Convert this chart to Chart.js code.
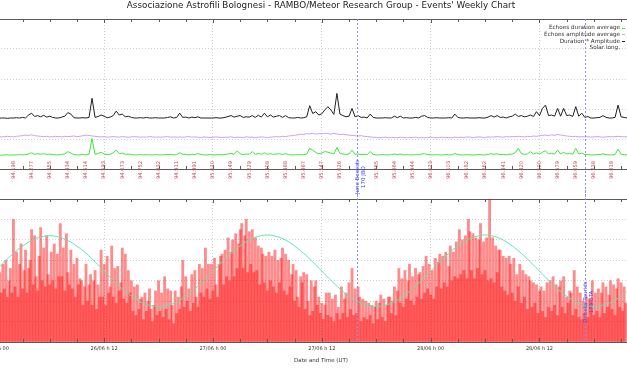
<!DOCTYPE html>
<html>
<head>
<meta charset="utf-8">
<title>RAMBO - Events' Weekly Chart</title>
<script src="https://cdn.jsdelivr.net/npm/chart.js"></script>
<style>
  html, body { margin: 0; padding: 0; background: #fff; overflow: hidden; width: 627px; height: 376px; position: relative; }
  #top { position: absolute; left: -20px; top: 0; z-index: 2; }
  #bottom { position: absolute; left: -20px; top: 190px; z-index: 1; }
</style>
</head>
<body>
<canvas id="top" width="682" height="200"></canvas>
<canvas id="bottom" width="682" height="186"></canvas>
<script>
const FONT = 'DejaVu Sans';

// time axis: hours from 26/06 00:00 UT
const xMin = -1.687;
const xMax = 73.51;
const gridHours = [0, 12, 24, 36, 48, 60, 72];
const dateLabels = ['26/06 h 00', '26/06 h 12', '27/06 h 00', '27/06 h 12', '28/06 h 00', '28/06 h 12', '29/06 h 00'];

// solar longitude printed every 2 hours
const solarHours = [2, 4, 6, 8, 10, 12, 14, 16, 18, 20, 22, 24, 26, 28, 30, 32, 34,
  36, 38, 40, 42, 44, 46, 48, 50, 52, 54, 56, 58, 60, 62, 64, 66, 68];
const solarLong = ['94.198', '94.277', '94.355', '94.434', '94.514', '94.593', '94.673', '94.752', '94.832',
  '94.911', '94.991', '95.070', '95.149', '95.229', '95.308', '95.388', '95.467', '95.547', '95.626',
  '95.705', '95.785', '95.864', '95.944', '96.023', '96.103', '96.182', '96.262', '96.341', '96.420',
  '96.500', '96.579', '96.659', '96.738', '96.818'];
const solarLabel = 'Solar long.';

// meteor showers marked on the chart
const showerNames = ['June Bootids', 'D. beta Taurids'];
const showerCodes = ['170 JBO', '173 BTA'];
const showerHours = [39.85, 65.0];

// upper panel, one sample every 20 minutes
const sampleStep = 1 / 3;
const durAmp = [
  17.0,16.9,17.0,17.0,16.9,17.0,17.0,17.1,17.0,17.2,17.0,
  18.0,18.6,17.5,17.8,17.4,17.9,17.3,17.6,17.2,17.0,
  17.0,17.3,17.6,18.8,18.3,17.1,17.0,17.0,17.1,17.0,
  17.2,23.6,17.2,17.5,18.0,17.6,17.1,17.3,17.8,19.3,
  18.0,18.3,17.4,17.6,17.2,17.0,17.0,17.1,17.0,17.2,
  17.0,17.0,17.1,17.0,17.0,17.0,17.2,17.4,17.0,17.2,
  18.6,17.2,17.3,17.0,17.3,17.1,17.4,17.0,17.0,17.0,
  17.0,17.0,17.1,17.0,17.0,17.2,17.5,17.8,17.3,17.6,
  17.8,17.2,17.4,17.3,17.8,17.2,17.9,17.3,18.6,17.4,
  18.0,17.3,17.6,17.8,17.2,17.8,17.1,17.0,17.0,17.2,
  17.0,17.1,17.4,21.1,18.5,19.1,18.0,18.4,19.7,20.8,
  19.7,18.2,25.2,18.3,17.8,17.4,17.6,20.2,17.4,17.8,
  17.2,17.3,17.0,18.3,17.2,17.0,17.0,17.0,17.1,17.0,
  17.0,17.6,17.1,17.6,17.0,17.1,17.0,17.0,17.2,17.0,
  17.6,17.8,17.2,17.0,17.0,17.1,17.0,17.0,17.0,17.1,
  17.0,18.3,17.2,17.0,17.0,17.1,17.0,17.0,17.0,17.1,
  17.0,17.0,17.3,17.8,17.3,17.8,17.2,17.3,17.0,17.4,
  17.6,18.3,17.5,17.8,17.4,17.6,18.0,17.5,19.1,17.8,
  20.2,21.3,17.8,18.0,17.6,20.2,17.6,20.2,17.8,18.0,
  17.5,20.8,17.6,18.6,17.2,17.5,17.0,17.0,17.1,17.2,
  17.8,17.2,17.0,17.0,17.2,21.3,17.4,17.2,17.0,17.1
];
const ampAvg = [
  10.8,10.9,10.7,10.8,10.9,10.8,10.7,10.9,11.0,11.1,
  11.3,11.2,11.4,11.1,11.0,
  10.9,10.8,10.9,10.7,10.8,10.9,10.8,10.7,10.9,10.8,10.9,11.0,10.8,10.9,
  11.1,11.3,11.2,11.0,10.9,
  10.8,10.7,10.8,10.6,10.7,10.8,10.7,10.6,10.8,10.7,10.6,10.7,10.8,10.7,10.6,10.7,10.6,
  10.8,10.7,10.6,10.7,10.6,10.7,10.8,10.6,10.7,10.6,10.7,10.6,10.7,10.8,10.6,10.7,
  10.6,10.5,10.7,10.6,10.5,10.6,10.7,10.6,10.5,10.6,10.6,10.7,10.5,10.6,10.6,10.5,10.7,
  10.6,10.6,10.5,10.6,10.7,10.6,10.5,10.6,10.7,10.8,10.7,10.9,10.8,11.0,11.1,11.2,
  11.4,11.6,11.5,11.8,11.7,11.9,11.6,11.8,11.7,11.9,11.8,11.6,11.9,11.7,11.5,11.6,11.4,11.3,
  11.2,11.1,11.0,11.1,10.9,10.8,10.7,
  10.6,10.5,10.4,10.5,10.6,10.4,10.5,10.5,10.4,10.6,10.5,10.4,10.5,10.5,10.6,10.4,
  10.5,10.4,10.5,10.6,10.5,10.4,10.5,10.6,10.5,10.5,10.4,10.6,10.5,10.6,10.5,10.7,
  10.6,10.5,10.6,10.7,10.6,10.5,10.7,10.6,10.7,10.8,10.7,10.6,10.8,10.7,10.8,
  10.8,10.9,10.8,10.7,10.9,10.8,11.0,10.9,11.1,11.2,11.3,11.1,
  11.4,11.2,11.5,11.3,11.2,11.0,
  10.9,10.8,10.9,10.7,10.8,10.7,10.8,10.6,10.7,10.8,10.7,10.6,10.7,10.8,10.7,10.8,10.9,10.8,10.7,10.8,10.7
];
const durAvg = [
  4.7,4.7,4.6,4.7,4.7,4.6,4.7,4.7,4.8,4.7,4.8,
  5.0,5.4,4.9,5.1,4.9,5.1,4.8,5.0,4.8,4.7,
  4.7,4.9,5.0,5.8,5.3,4.8,4.7,4.7,4.8,4.7,
  4.9,10.2,4.9,5.2,5.6,5.0,4.8,4.9,5.4,6.3,
  5.1,5.3,4.9,5.0,4.8,4.7,4.7,4.8,4.7,4.8,
  4.7,4.7,4.8,4.7,4.7,4.8,4.8,4.9,4.7,4.8,
  5.4,4.9,4.9,4.7,4.9,4.8,5.2,4.8,4.7,4.7,
  4.8,4.7,4.7,4.8,4.7,4.8,5.0,5.2,4.9,6.0,
  5.1,4.8,5.0,4.9,5.8,4.9,5.2,4.9,5.4,4.9,
  5.1,4.9,5.0,5.1,4.8,5.1,4.8,4.7,4.7,4.8,
  4.7,4.8,5.0,6.9,6.3,5.5,5.1,5.3,5.8,5.6,
  5.3,5.0,7.2,5.2,5.0,4.9,5.0,6.3,4.9,5.0,
  4.8,4.9,4.8,5.8,4.9,4.7,4.7,4.8,4.7,4.7,
  4.8,5.0,4.8,5.0,4.7,4.8,4.7,4.7,4.8,4.7,
  5.0,5.1,4.8,4.7,4.7,4.8,4.7,4.7,4.8,4.7,
  4.7,5.2,4.8,4.7,4.7,4.8,4.7,4.7,4.7,4.8,
  4.7,4.7,4.9,5.1,4.9,5.1,4.8,4.9,4.7,4.9,
  5.0,5.4,6.9,5.1,4.9,5.0,5.8,5.0,5.4,5.0,
  5.6,6.1,5.0,5.2,5.0,6.3,5.0,5.6,5.0,5.2,
  4.9,6.9,5.0,5.3,4.8,4.9,4.7,4.7,4.8,4.8,
  5.1,4.8,4.7,4.7,4.8,6.6,4.9,4.8,4.7,4.7
];
const topHours = durAmp.map((_, i) => i * sampleStep);

// lower panel: echoes every 10 minutes from 26/06 00:30
const barStart = 0.5;
const barStep = 1 / 6;
const counts = [
  34,24,38,26,40,22,30, 36,24,60,27,44,22,38, 48,26,35,45,24,36,
  40,55,28,52,32,25,42, 56,30,46,27,52,33,28, 44,30,48,26,43,32,
  58,32,46,25,53,34,28, 45,26,38,22,41,28,31, 30,18,27,38,20,28,
  33,18,30,35,16,28,22, 45,22,38,18,42,24,27, 47,22,36,19,37,25,
  29,46,21,43,19,35,24, 30,15,27,13,28,16,21, 22,11,24,15,20,26,
  16,10,18,25,13,30,15, 24,12,32,16,26,11,25, 18,9,25,14,22,16,
  27,40,17,32,20,26,15, 33,19,35,22,17,38,24, 36,22,46,26,38,21,
  38,25,41,28,22,38,42, 43,28,45,32,51,30,44, 50,32,53,36,48,55,
  58,36,52,60,34,54,38, 55,34,51,35,47,28,46, 43,29,42,25,44,30,
  42,27,45,24,40,29,41, 46,25,43,23,40,27,33, 38,20,35,22,17,32,
  29,34,16,33,20,13,30, 15,27,30,18,
  22,14,19,11,18,24,13, 24,12,21,10,23,14, 17,11,27,14,21,24,12,
  29,16,36,13,26,14,27, 22,10,21,12,20,11, 19,13,18,9,17,20,11,
  19,23,12,21,10,18,22, 22,14,20,27,13,25, 36,19,31,17,35,21,30,
  38,20,32,18,36,22,33, 34,21,37,24,42,26, 38,23,35,21,41,27,39,
  43,26,42,29,44,27,37, 47,30,44,32,49,31, 55,33,50,35,52,31,60,
  54,35,53,31,51,36,50, 58,33,49,35,51,30, 72,31,51,29,47,34,45,
  45,27,42,25,41,23,42, 38,24,41,20,33,27, 38,19,35,22,33,16,32,
  30,17,29,19,28,14,25, 27,15,25,12,29,17, 30,15,32,18,28,13,27,
  30,17,32,14,22,19,25, 24,13,35,16,27,12, 24,11,20,14,22,12,21,
  20,30,13,24,15,26,12, 24,29,14,27,17,23, 30,16,28,13,26,31,17,
  29,15,27,19
];
// expected sporadic rate, hourly
const modelRate = [
  34.7,39.2,43.4,46.9,49.7,51.4,52.0,51.4,49.7,46.9,43.4,39.2,34.7,30.2,26.0,22.5,19.7,18.0,17.4,18.0,19.7,22.5,26.0,30.2,
  34.7,39.2,43.4,47.0,49.9,51.7,52.4,51.7,49.9,47.0,43.4,39.2,34.7,30.2,26.0,22.5,19.7,18.0,17.4,18.0,19.7,22.5,26.0,30.2,
  34.7,39.2,43.4,47.0,49.9,51.7,52.4,51.7,49.9,47.0,43.4,39.2,34.7,30.2,26.0,22.5,19.7,18.0,17.4,18.0,19.7,22.5,26.0
];

const GRID = '#cdcdcd';
const AXIS = '#5a5a5a';

// small inward ticks every 3 hours on the panel edges
const edgeTicks = {
  id: 'edgeTicks',
  afterDraw(chart) {
    const { ctx, chartArea: a, scales: { x } } = chart;
    ctx.save();
    ctx.strokeStyle = AXIS;
    ctx.lineWidth = 1;
    ctx.beginPath();
    for (let h = 0; h <= 72; h += 3) {
      const px = Math.round(x.getPixelForValue(h)) + 0.5;
      const len = h % 12 === 0 ? 4 : 3;
      ctx.moveTo(px, a.top);
      ctx.lineTo(px, a.top + len);
      ctx.moveTo(px, a.bottom);
      ctx.lineTo(px, a.bottom - len);
    }
    ctx.stroke();
    ctx.restore();
  }
};

const showerPlugin = {
  id: 'showers',
  afterDatasetsDraw(chart, args, opts) {
    const { ctx, chartArea: a, scales: { x } } = chart;
    ctx.save();
    showerHours.forEach((h, i) => {
      const px = Math.round(x.getPixelForValue(h)) + 0.5;
      ctx.strokeStyle = '#8c8cff';
      ctx.lineWidth = 1;
      ctx.setLineDash([2, 2]);
      ctx.beginPath();
      ctx.moveTo(px, opts.fromCanvasTop ? 0 : a.top);
      ctx.lineTo(px, opts.toCanvasBottom ? chart.height : a.bottom);
      ctx.stroke();
      if (opts.labelled.includes(i)) {
        ctx.save();
        ctx.fillStyle = '#4b4be6';
        ctx.font = '5.5px ' + FONT;
        ctx.textAlign = 'center';
        ctx.textBaseline = 'middle';
        ctx.translate(px, opts.labelY);
        ctx.rotate(-Math.PI / 2);
        ctx.fillText(showerNames[i], 0, 0);
        ctx.fillText(showerCodes[i], 0, 6.5);
        ctx.restore();
      }
    });
    ctx.restore();
  }
};

const solarPlugin = {
  id: 'solarLong',
  afterDraw(chart) {
    const { ctx, chartArea: a, scales: { x } } = chart;
    const busy = showerHours.map(h => x.getPixelForValue(h));
    ctx.save();
    ctx.font = '5.2px ' + FONT;
    ctx.fillStyle = '#c4485a';
    ctx.textAlign = 'center';
    ctx.textBaseline = 'middle';
    solarHours.forEach((h, i) => {
      const px = x.getPixelForValue(h);
      if (busy.some(b => Math.abs(b - px) < 4)) return;
      ctx.save();
      ctx.translate(px, a.bottom + 1);
      ctx.rotate(-Math.PI / 2);
      ctx.fillText(solarLong[i], 0, 0);
      ctx.restore();
    });
    ctx.restore();
  }
};

const legendPlugin = {
  id: 'cornerLegend',
  afterDraw(chart) {
    const { ctx } = chart;
    const right = chart.width - 42;
    const items = chart.data.datasets
      .map(d => ({ text: d.label, color: d.borderColor }))
      .concat([{ text: solarLabel, color: null }]);
    ctx.save();
    ctx.font = '5.7px ' + FONT;
    ctx.textAlign = 'right';
    ctx.textBaseline = 'middle';
    items.forEach((it, i) => {
      const y = 27.7 + i * 6.7;
      ctx.fillStyle = '#333';
      ctx.fillText(it.text, right, y);
      if (it.color) {
        ctx.strokeStyle = it.color;
        ctx.beginPath();
        ctx.moveTo(right + 2, Math.round(y) + 0.5);
        ctx.lineTo(right + 5, Math.round(y) + 0.5);
        ctx.stroke();
      }
    });
    ctx.restore();
  }
};

const setGridTicks = s => { s.ticks = gridHours.map(v => ({ value: v })); };

new Chart(document.getElementById('top'), {
  type: 'line',
  data: {
    labels: topHours,
    datasets: [
      { label: 'Echoes duration average', data: durAvg, borderColor: '#3ce83c' },
      { label: 'Echoes amplitude average', data: ampAvg, borderColor: '#c6a0ff' },
      { label: 'Duration * Amplitude', data: durAmp, borderColor: '#202020' }
    ]
  },
  options: {
    responsive: false,
    animation: false,
    devicePixelRatio: 1,
    layout: { padding: { top: 0, bottom: 31, left: 0, right: 0 } },
    elements: { point: { radius: 0 }, line: { borderWidth: 1, tension: 0 } },
    plugins: {
      legend: { display: false },
      tooltip: { enabled: false },
      title: {
        display: true,
        text: "Associazione Astrofili Bolognesi - RAMBO/Meteor Research Group - Events' Weekly Chart",
        color: '#222',
        font: { family: FONT, size: 8.8, weight: 'normal', lineHeight: 1 },
        padding: { top: 1.5, bottom: 8.7 }
      },
      showers: { labelled: [0], labelY: 177, fromCanvasTop: false, toCanvasBottom: true }
    },
    scales: {
      x: {
        type: 'linear', min: xMin, max: xMax,
        afterBuildTicks: setGridTicks,
        ticks: { display: false },
        grid: { color: GRID, drawTicks: false },
        border: { color: AXIS, dash: [1, 2] },
        afterFit: s => { s.height = 0; }
      },
      x2: {
        type: 'linear', position: 'top', min: xMin, max: xMax,
        ticks: { display: false },
        grid: { display: false, drawTicks: false },
        border: { color: AXIS },
        afterFit: s => { s.height = 0; }
      },
      y: {
        min: 0, max: 50,
        ticks: { stepSize: 10, display: false },
        grid: { color: GRID, drawTicks: false },
        border: { display: false, dash: [1, 2] },
        afterFit: s => { s.width = 0; }
      }
    }
  },
  plugins: [edgeTicks, showerPlugin, solarPlugin, legendPlugin]
});

new Chart(document.getElementById('bottom'), {
  type: 'bar',
  data: {
    datasets: [
      {
        type: 'line', label: 'Expected rate',
        data: modelRate.map((v, h) => ({ x: h, y: v })),
        borderColor: '#5fe4aa', borderWidth: 1, pointRadius: 0, tension: 0.4, order: 0
      },
      {
        type: 'bar', label: 'Echoes',
        data: counts.map((v, i) => ({ x: barStart + i * barStep, y: v })),
        backgroundColor: 'rgba(255, 0, 0, 0.45)', borderWidth: 0, barThickness: 2.2, order: 1
      }
    ]
  },
  options: {
    responsive: false,
    animation: false,
    devicePixelRatio: 1,
    layout: { padding: { top: 9, bottom: 0, left: 0, right: 0 } },
    plugins: {
      legend: { display: false },
      tooltip: { enabled: false },
      showers: { labelled: [1], labelY: 112, fromCanvasTop: true, toCanvasBottom: false }
    },
    scales: {
      x: {
        type: 'linear', min: xMin, max: xMax, offset: false,
        afterBuildTicks: setGridTicks,
        ticks: {
          callback: v => dateLabels[gridHours.indexOf(v)],
          font: { family: FONT, size: 5 }, color: '#333',
          padding: 4, maxRotation: 0, autoSkip: false
        },
        grid: { offset: false, color: GRID, drawTicks: false },
        border: { color: AXIS, dash: [1, 2] },
        title: {
          display: true, text: 'Date and Time (UT)', color: '#333',
          font: { family: FONT, size: 5.5 },
          padding: { top: 0, bottom: 11.7 }
        },
        afterFit: s => { s.height = 34; s.paddingLeft = 0; s.paddingRight = 0; }
      },
      x2: {
        type: 'linear', position: 'top', min: xMin, max: xMax,
        ticks: { display: false },
        grid: { display: false, drawTicks: false },
        border: { color: AXIS },
        afterFit: s => { s.height = 0; }
      },
      y: {
        min: 0, max: 70,
        ticks: { stepSize: 10, display: false },
        grid: { color: GRID, drawTicks: false },
        border: { display: false, dash: [1, 2] },
        afterFit: s => { s.width = 0; }
      }
    }
  },
  plugins: [edgeTicks, showerPlugin]
});
</script>
</body>
</html>
